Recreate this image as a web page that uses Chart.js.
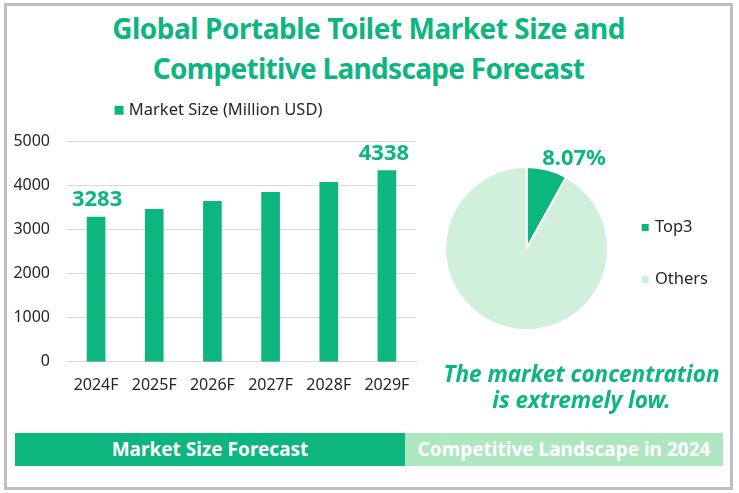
<!DOCTYPE html>
<html><head><meta charset="utf-8">
<script src="https://cdn.jsdelivr.net/npm/chart.js@4"></script>
<style>
html,body{margin:0;padding:0;background:#fff;width:739px;height:493px;overflow:hidden;font-family:"Noto Sans",sans-serif}
#frame{position:absolute;left:4px;top:3px;width:729px;height:487px;border:3px solid #BFBFBF;box-sizing:border-box}
.t{position:absolute;text-align:center;white-space:nowrap}
#t1,#t2{left:0;width:737px;color:#0DB57F;font-weight:700;font-size:28px;line-height:40px}
#t1{top:8px;letter-spacing:-.47px}#t2{top:48px;letter-spacing:-.7px}
#note{left:430px;width:303px;top:361px;color:#0DB57F;font-weight:700;font-style:italic;font-size:22.5px;line-height:26px}
.bar{position:absolute;top:433px;height:33px;line-height:32px;color:#fff;font-weight:700;font-size:19px;text-align:center}
canvas{position:absolute}
#bw{position:absolute;left:0;top:76px;width:430px;height:325px}
#pw{position:absolute;left:437px;top:144px;width:300px;height:216px}
</style></head><body>
<div id="frame"></div>
<div class="t" id="t1">Global Portable Toilet Market Size and</div>
<div class="t" id="t2">Competitive Landscape Forecast</div>
<div id="bw"><canvas id="c1"></canvas></div>
<div id="pw"><canvas id="c2"></canvas></div>
<div class="t" id="note">The market concentration<br>is extremely low.</div>
<div class="bar" style="left:15px;width:390px;background:#0DB57F">Market Size Forecast</div>
<div class="bar" style="left:405px;width:318px;background:#AEE6C0">Competitive Landscape in 2024</div>
<script>
const years = ["2024F","2025F","2026F","2027F","2028F","2029F"];
const marketSize = [3283,3462,3644,3848,4076,4338];
const labelledYears = ["2024F","2029F"];
const pieLabels = ["Top3","Others"];
const pieValues = [8.07,91.93];
const pieShown = ["8.07%"];
const GREEN="#0DB57F", LIGHT="#D0F0DC", FONT='"Noto Sans", sans-serif';

const shiftLegend=(dx,dy)=>({id:"shiftLegend",afterLayout(c){
  const l=c.legend;l.left+=dx;l.right+=dx;l.top+=dy;l.bottom+=dy;
}});
const legendGap=extra=>({id:"legendGap",beforeInit(c){
  const fit=c.legend.fit;
  c.legend.fit=function(){fit.call(this);this.height+=extra;};
}});
const barLabels={id:"barLabels",afterDatasetsDraw(c){
  const ctx=c.ctx,m=c.getDatasetMeta(0);
  ctx.save();ctx.fillStyle=GREEN;ctx.font="700 22px "+FONT;ctx.textAlign="center";ctx.textBaseline="middle";
  years.forEach((y,i)=>{ if(labelledYears.includes(y)) ctx.fillText(String(marketSize[i]),m.data[i].x+(i===0?1:-3),m.data[i].y-17); });
  ctx.restore();
}};
new Chart(document.getElementById("c1"),{type:"bar",plugins:[barLabels,shiftLegend(12,0),legendGap(13)],
 data:{labels:years,datasets:[{label:"Market Size (Million USD)",data:marketSize,backgroundColor:GREEN,barThickness:18}]},
 options:{responsive:true,maintainAspectRatio:false,animation:false,
  layout:{padding:{left:0,right:14,top:12,bottom:0}},
  plugins:{tooltip:{enabled:false},
   legend:{position:"top",labels:{usePointStyle:true,pointStyle:"rect",boxWidth:3,boxHeight:9,color:"#262626",font:{family:FONT,size:16.5},padding:14}}},
  scales:{
   x:{grid:{display:false},border:{color:"#D9D9D9"},ticks:{color:"#262626",font:{family:FONT,size:16},padding:6,maxRotation:0}},
   y:{min:0,max:5000,afterFit(s){s.width=67},ticks:{stepSize:1000,color:"#262626",font:{family:FONT,size:16},padding:17,callback:v=>String(v)},
      grid:{color:"#D9D9D9",drawTicks:false},border:{display:false}}
  }}});

const pieLabel={id:"pieLabel",afterDatasetsDraw(c){
  const ctx=c.ctx,a=c.getDatasetMeta(0).data[0],mid=(a.startAngle+a.endAngle)/2,r=a.outerRadius;
  ctx.save();ctx.fillStyle=GREEN;ctx.font="700 22px "+FONT;ctx.textAlign="center";ctx.textBaseline="middle";
  ctx.fillText(pieShown[0],a.x+Math.cos(mid)*r+27,a.y+Math.sin(mid)*r-11);
  ctx.restore();
}};
new Chart(document.getElementById("c2"),{type:"pie",plugins:[pieLabel,shiftLegend(-2,5)],
 data:{labels:pieLabels,datasets:[{data:pieValues,backgroundColor:[GREEN,LIGHT],borderColor:"#fff",borderWidth:2}]},
 options:{responsive:true,maintainAspectRatio:false,animation:false,
  layout:{padding:{left:6,right:17,top:22,bottom:29}},
  plugins:{tooltip:{enabled:false},
   legend:{position:"right",labels:{usePointStyle:true,pointStyle:"rect",boxWidth:3,boxHeight:9,color:"#262626",font:{family:FONT,size:16.5},padding:35.5}}}}});
</script></body></html>
